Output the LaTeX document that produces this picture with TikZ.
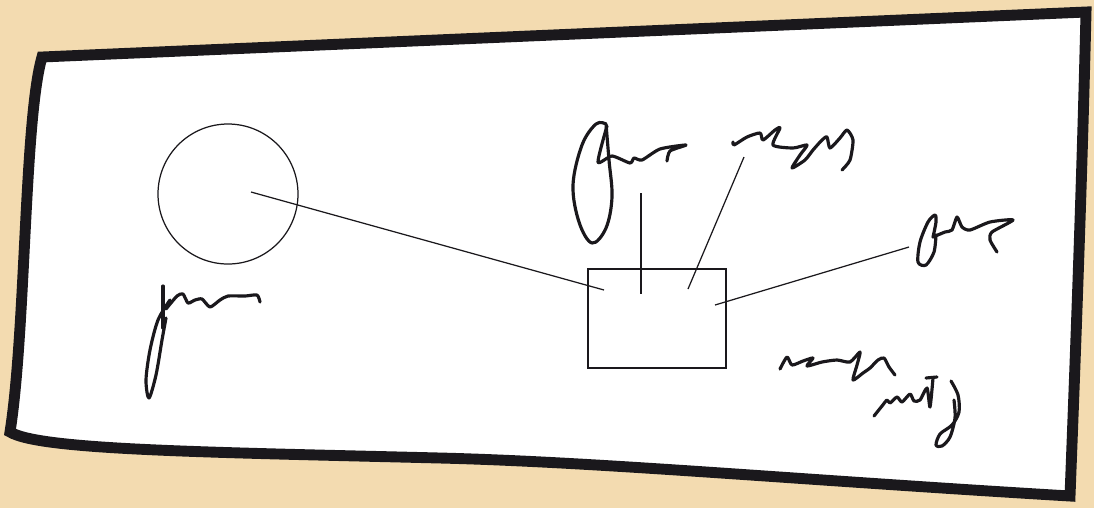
\documentclass[tikz,border=0pt]{standalone}
\usepackage{xcolor}
\usepackage{tikz}
\usetikzlibrary{positioning,calc}
\definecolor{skpaper}{HTML}{F3DBB0}
\definecolor{skink}{HTML}{1A181C}
\tikzset{
  frame/.style={draw=skink,line width=3.1pt,fill=white,line join=miter},
  thin/.style={draw=skink,line width=0.35pt},
  scrib/.style={draw=skink,line width=0.9pt,line cap=round,line join=round},
}
\begin{document}
\begin{tikzpicture}[x=0.01cm,y=-0.01cm]
\useasboundingbox (0,0) rectangle (1094,508);
\fill[skpaper] (0,0) rectangle (1094,508);
% sheet
\draw[frame] (42,57) -- (1086,12)
  .. controls (1082,180) and (1076,340) .. (1070,496)
  .. controls (800,480) and (600,462) .. (440,458)
  .. controls (200,452) and (40,450) .. (10,432)
  .. controls (26,330) and (24,120) .. cycle;
% shapes
\node[thin,circle,minimum size=140*0.01cm,inner sep=0pt] (disc) at (228,194) {};
\node[thin,rectangle,minimum width=138*0.01cm,minimum height=99*0.01cm,inner sep=0pt] (box) at (657,318.5) {};
\coordinate (c1) at (251,192);
\coordinate (b1) at (604,290);
\coordinate (t1) at (641,193);
\coordinate (b2) at (641,294);
\coordinate (t2) at (744,157);
\coordinate (b3) at (688,289);
\coordinate (t3) at (909,247);
\coordinate (b4) at (715,305);
\draw[thin] (c1) -- (b1);
\draw[thin] (t1) -- (b2);
\draw[thin] (t2) -- (b3);
\draw[thin] (t3) -- (b4);
% scribbles
\draw[scrib] plot[smooth,tension=0.6] coordinates {(606,124) (596,124) (582,145) (573,185) (579,222) (592,243) (606,228) (612,197) (609,160) (606,124)};
\draw[scrib] plot[smooth,tension=0.4] coordinates {(607,126) (598,162) (612,156) (630,163) (634,158) (642,160) (660,149) (686,145) (670,151) (667,161)};
\draw[scrib] plot[smooth,tension=0.4] coordinates {(733,142) (734,145) (747,137) (760,133) (763,140) (775,130) (780,128) (773,145) (793,148) (807,145) (800,155) (792,168) (805,160) (813,150) (822,140) (827,137) (830,148) (840,138) (847,130) (853,140) (850,160) (842,170)};
\draw[scrib] (163,286) -- (163,328);
\draw[scrib] plot[smooth,tension=0.5] coordinates {(170,300) (158,320) (150,350) (146,380) (149,398) (156,375) (162,340) (166,318)};
\draw[scrib] plot[smooth,tension=0.4] coordinates {(166,309) (177,296) (183,294) (188,303) (195,300) (202,299) (210,307) (220,300) (228,296) (245,296) (257,295) (260,302)};
\draw[scrib] plot[smooth,tension=0.5] coordinates {(933,237) (936,222) (935,215) (928,222) (920,242) (918,262) (926,265) (934,252) (936,235)};
\draw[scrib] plot[smooth,tension=0.4] coordinates {(933,237) (945,232) (952,230) (957,217) (962,227) (970,230) (990,222) (1013,220) (992,232) (990,240) (997,252)};
\draw[scrib] plot[smooth,tension=0.4] coordinates {(780,369) (787,357) (792,365) (803,361) (813,358) (807,366) (822,362) (837,360) (850,362) (860,352) (857,365) (853,380) (863,373) (870,368) (878,360) (884,358) (889,367) (895,375)};
\draw[scrib] plot[smooth,tension=0.4] coordinates {(874,416) (882,406) (887,400) (890,403) (897,397) (902,402) (910,394) (914,401) (920,400) (927,388) (930,407) (933,378)};
\draw[scrib] (926,378) -- (937,377);
\draw[scrib] plot[smooth,tension=0.5] coordinates {(951,381) (958,395) (959,412) (952,425) (940,434) (936,445) (942,446) (950,437) (955,418) (954,400)};
\end{tikzpicture}
\end{document}
